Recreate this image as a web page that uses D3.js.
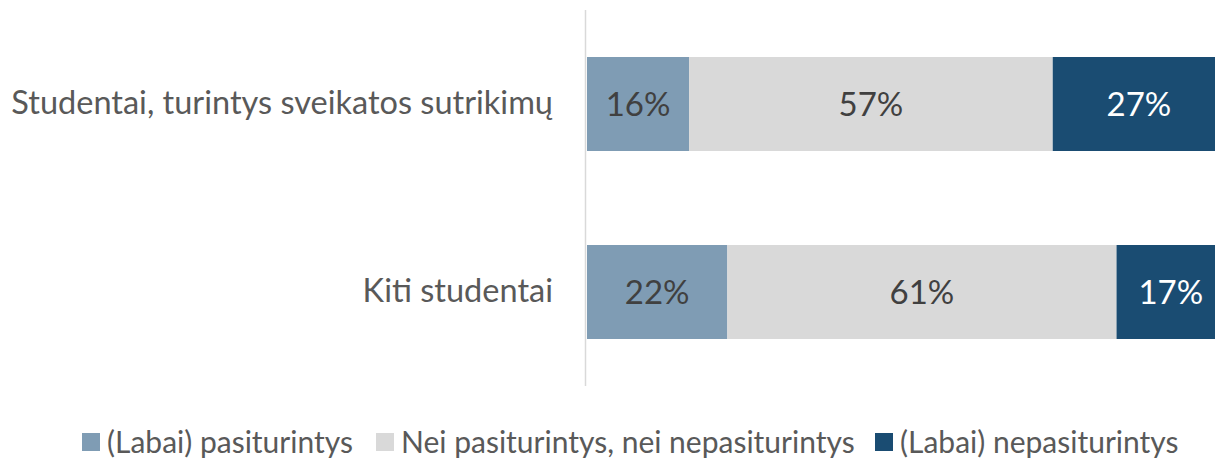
<!DOCTYPE html>
<html><head><meta charset="utf-8">
<script src="https://cdn.jsdelivr.net/npm/d3@7"></script>
<style>body{margin:0;background:#fff}svg{display:block}text{font-family:Lato,"Open Sans",sans-serif}</style>
</head><body>
<svg id="c" width="1215" height="458"></svg>
<script>
const categories = ["Studentai, turintys sveikatos sutrikimų", "Kiti studentai"];
const seriesNames = ["(Labai) pasiturintys", "Nei pasiturintys, nei nepasiturintys", "(Labai) nepasiturintys"];
const pasiturintys = [16, 22];
const neiNei = [57, 61];
const nepasiturintys = [27, 17];
const colors = ["#7f9cb4", "#d9d9d9", "#1a4c72"];
const labelColors = ["#404040", "#404040", "#ffffff"];

const svg = d3.select("#c");
const rows = categories.map((c, i) => ({cat: c, vals: [pasiturintys[i], neiNei[i], nepasiturintys[i]]}));
const x = d3.scaleLinear().domain([0, 100]).range([587, 1225]);
const y = d3.scaleBand().domain(categories).range([10, 386]).paddingInner(0.5).paddingOuter(0.25);

rows.forEach(r => {
  let acc = 0;
  r.vals.forEach((v, k) => {
    const x0 = x(acc), x1 = x(acc + v);
    svg.append("rect").attr("x", x0).attr("y", y(r.cat)).attr("width", x1 - x0).attr("height", y.bandwidth()).attr("fill", colors[k]);
    svg.append("text").attr("x", (x0 + x1) / 2).attr("y", y(r.cat) + y.bandwidth() / 2).attr("dy", "0.36em")
      .attr("text-anchor", "middle").attr("font-size", 33).attr("fill", labelColors[k]).text(v + "%");
    acc += v;
  });
});

// axis line
svg.append("line").attr("x1", 585.5).attr("x2", 585.5).attr("y1", y.range()[0]).attr("y2", y.range()[1]).attr("stroke", "#d9d9d9").attr("stroke-width", 1.5);

const yAxis = d3.axisLeft(y).tickSize(0).tickPadding(0);
const g = svg.append("g").attr("transform", "translate(553,0)").call(yAxis);
g.select(".domain").remove();
g.selectAll("text").attr("font-size", 32.5).attr("fill", "#595959").attr("font-family", "Lato").attr("dy", "0.32em");

// legend
const legX = [82, 376, 875];
seriesNames.forEach((n, k) => {
  svg.append("rect").attr("x", legX[k]).attr("y", 433).attr("width", 18).attr("height", 18).attr("fill", colors[k]);
  svg.append("text").attr("x", legX[k] + 25).attr("y", 442).attr("dy", "0.36em").attr("font-size", 30).attr("fill", "#595959").text(n);
});
</script>
</body></html>
